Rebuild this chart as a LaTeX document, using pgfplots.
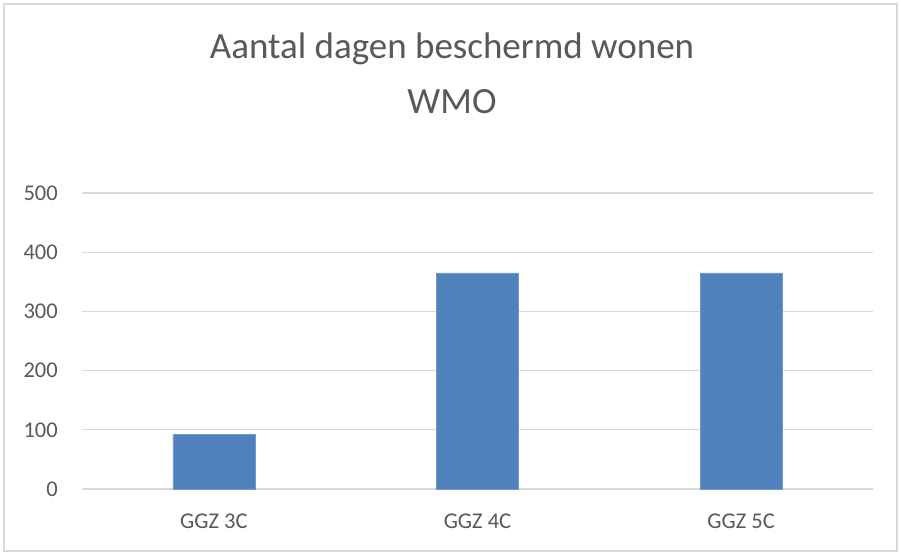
\documentclass[border=0pt]{standalone}
\usepackage{pgfplots}
\pgfplotsset{compat=1.18}
\usepackage{fontspec}
\setmainfont{Carlito}
\definecolor{barblue}{HTML}{4F81BD}
\definecolor{txtgray}{HTML}{595959}
\definecolor{gridgray}{HTML}{D9D9D9}
\begin{document}
\begin{tikzpicture}[x=1pt,y=1pt]
\fill[white] (0,0) rectangle (901,556);
\draw[gridgray, line width=1.2pt] (4,5) rectangle (897,552);
\node[text=txtgray, font=\fontsize{37}{44}\selectfont, anchor=base, inner sep=0pt] at (452,497) {Aantal dagen beschermd wonen};
\node[text=txtgray, font=\fontsize{37}{44}\selectfont, anchor=base, inner sep=0pt] at (452,442) {WMO};
\begin{axis}[
  at={(82pt,67pt)}, anchor=south west,
  scale only axis, width=791pt, height=296pt,
  xmin=-0.5, xmax=2.5, ymin=0, ymax=500,
  ytick={0,100,...,500},
  xtick={0,1,2}, xticklabels={GGZ 3C,GGZ 4C,GGZ 5C},
  axis line style={draw=none},
  axis x line*=bottom,
  x axis line style={draw=gridgray, line width=1.2pt},
  tick style={draw=none},
  ymajorgrids, grid style={gridgray, line width=1.2pt},
  ticklabel style={text=txtgray, font=\fontsize{22.5}{27}\selectfont, inner sep=0pt},
  /pgf/number format/assume math mode=true,
  yticklabel style={anchor=east, xshift=-24pt},
  xticklabel style={anchor=base, yshift=-40pt},
  clip=false,
]
\addplot[ybar, bar width=82pt, fill=barblue, draw=barblue!80!white] coordinates {(0,92) (1,365) (2,365)};
\end{axis}
\end{tikzpicture}
\end{document}
